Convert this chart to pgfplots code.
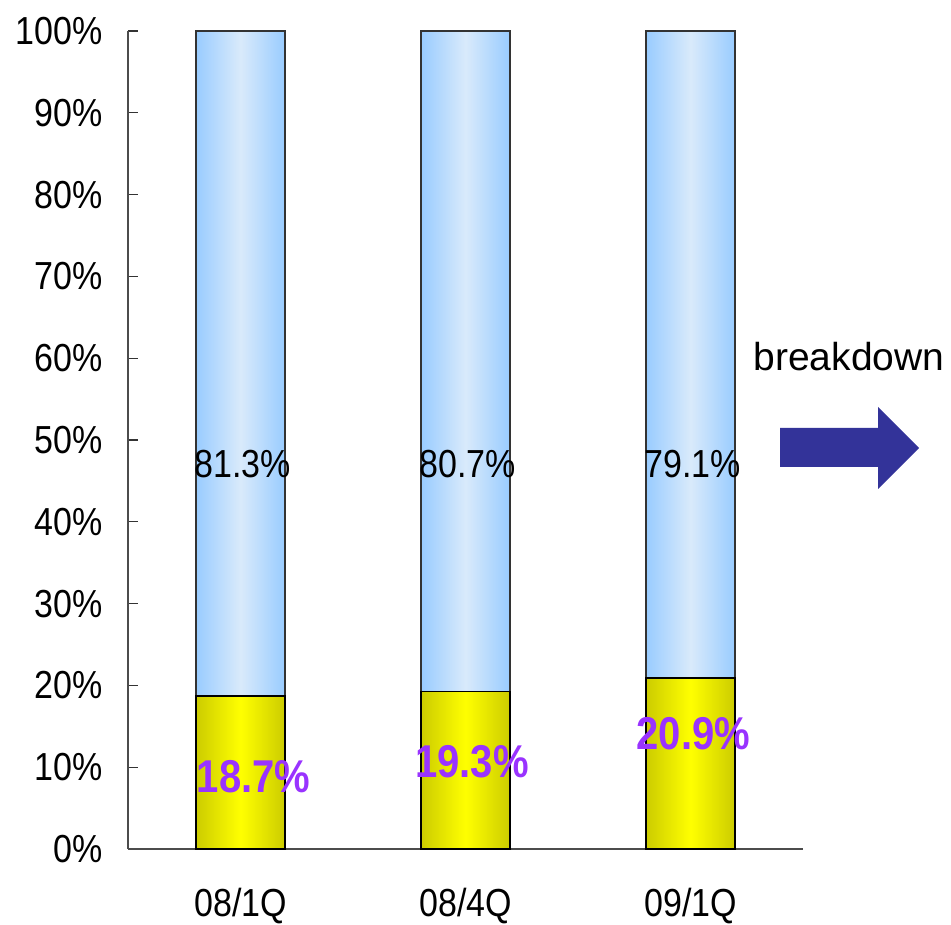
\documentclass[border=0pt]{standalone}
\usepackage{pgfplots}
\pgfplotsset{compat=1.18}
\usepackage{fontspec}
\setmainfont{Liberation Sans}
\usepackage{graphicx}
\definecolor{bluedark}{HTML}{99CCFF}
\definecolor{bluelight}{HTML}{D9EAFB}
\definecolor{ydark}{HTML}{CCCC00}
\definecolor{ylight}{HTML}{FFFF00}
\definecolor{purp}{HTML}{9933FF}
\definecolor{arrowc}{HTML}{333399}
\protected\def\st#1{\scalebox{1}[1.15]{#1}}
\tikzset{vlab/.style={font=\fontsize{17bp}{20bp}\selectfont},
  plab/.style={font=\fontsize{20bp}{24bp}\selectfont\bfseries, text=purp},
  ybarsty/.style={draw=black, line width=0.6bp, left color=ydark, right color=ydark, middle color=ylight},
  bbarsty/.style={draw=black!80, line width=0.6bp, left color=bluedark, right color=bluedark, middle color=bluelight}}
\pgfplotsset{geom/.style={
  at={(0,0)}, anchor=south west,
  scale only axis, width=337.5bp, height=409bp,
  xmin=-0.5, xmax=2.5, ymin=0, ymax=100,
  ybar stacked, bar width=44.5bp, clip=false}}
\begin{document}
\begin{tikzpicture}[x=1bp,y=1bp]
\useasboundingbox (-64,-38) rectangle (411.5,424.5);
\begin{axis}[geom,
  axis x line*=bottom, axis y line*=left,
  axis line style={-, draw=black!70, line width=0.7bp},
  tick align=inside,
  tick style={draw=black!80, line width=0.6bp},
  xtick={0,1,2},
  xticklabels={\st{08/1Q},\st{08/4Q},\st{09/1Q}},
  x tick style={draw=none},
  extra x ticks={0.5,1.5,2.5},
  extra x tick labels={},
  extra x tick style={tick style={draw=black!80, line width=0.6bp}, major tick length=6bp},
  ytick={0,10,...,100},
  yticklabels={\st{0\%},\st{10\%},\st{20\%},\st{30\%},\st{40\%},\st{50\%},\st{60\%},\st{70\%},\st{80\%},\st{90\%},\st{100\%}},
  major tick length=5bp,
  ticklabel style={font=\fontsize{17bp}{20bp}\selectfont},
  yticklabel style={xshift=-9bp},
  xticklabel style={yshift=-16bp},
]
\addplot[ybarsty] coordinates {(0,18.7)};
\addplot[bbarsty] coordinates {(0,81.3)};
\coordinate (v1) at (axis cs:0.01,47);
\coordinate (v2) at (axis cs:1.01,47);
\coordinate (v3) at (axis cs:2.01,47);
\coordinate (p1) at (axis cs:0.058,8.8);
\coordinate (p2) at (axis cs:1.029,10.7);
\coordinate (p3) at (axis cs:2.013,14.1);
\end{axis}
\begin{axis}[geom, hide axis]
\addplot[ybarsty] coordinates {(1,19.3)};
\addplot[bbarsty] coordinates {(1,80.7)};
\end{axis}
\begin{axis}[geom, hide axis]
\addplot[ybarsty] coordinates {(2,20.9)};
\addplot[bbarsty] coordinates {(2,79.1)};
\end{axis}
\node[vlab] at (v1) {\st{81.3\%}};
\node[vlab] at (v2) {\st{80.7\%}};
\node[vlab] at (v3) {\st{79.1\%}};
\node[plab] at (p1) {\st{18.7\%}};
\node[plab] at (p2) {\st{19.3\%}};
\node[plab] at (p3) {\st{20.9\%}};
\node[anchor=base, font=\fontsize{19.5bp}{23bp}\selectfont, inner sep=0] at (360.5,239.2) {breakdown};
\fill[arrowc] (326,191) -- (375,191) -- (375,180) -- (395.5,200.5) -- (375,221) -- (375,210.5) -- (326,210.5) -- cycle;
\end{tikzpicture}
\end{document}
